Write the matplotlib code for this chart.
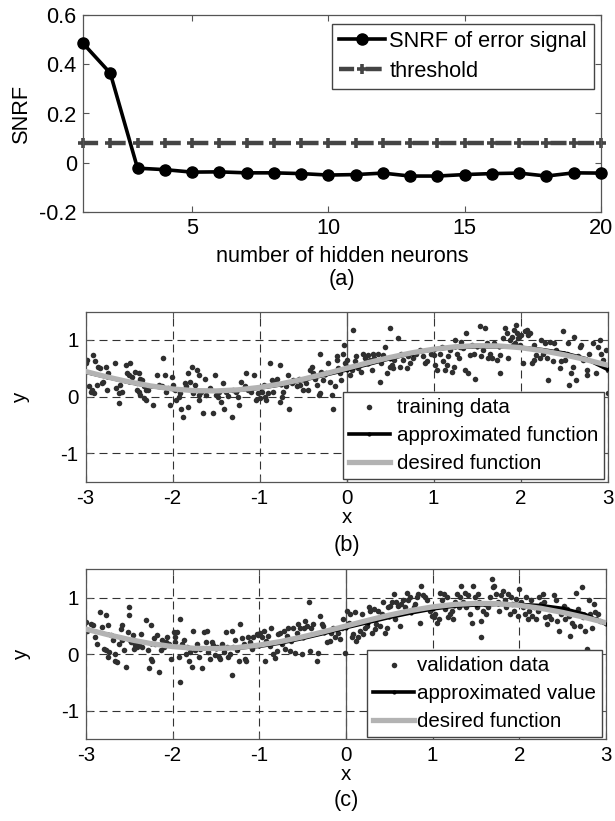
import numpy as np
import matplotlib
matplotlib.use("Agg")
import matplotlib.pyplot as plt

plt.rcParams["font.family"] = ["Liberation Sans", "DejaVu Sans"]
plt.rcParams["axes.unicode_minus"] = False
FS_A = 15.7   # text size of the SNRF panel
FS_F = 14.8   # text size of the two function panels

W, H = 615, 821

# (a) SNRF of the error signal vs number of hidden neurons
neurons = list(range(1, 21))
snrf = [0.485, 0.364, -0.022, -0.028, -0.038, -0.037, -0.041, -0.041, -0.044, -0.050,
        -0.048, -0.042, -0.054, -0.054, -0.048, -0.044, -0.042, -0.054, -0.041, -0.042]
threshold = [0.082] * len(neurons)

# (b), (c) function approximation
x_grid = [-3.0, -2.75, -2.5, -2.25, -2.0, -1.75, -1.5, -1.25, -1.0, -0.75, -0.5, -0.25, 0.0,
          0.25, 0.5, 0.75, 1.0, 1.25, 1.5, 1.75, 2.0, 2.25, 2.5, 2.75, 3.0]
desired = [0.444, 0.347, 0.261, 0.189, 0.136, 0.106, 0.101, 0.120, 0.163, 0.227, 0.308, 0.401, 0.500,
           0.599, 0.692, 0.773, 0.837, 0.880, 0.899, 0.894, 0.864, 0.811, 0.739, 0.653, 0.556]
approx_train = [0.43, 0.34, 0.25, 0.18, 0.13, 0.11, 0.10, 0.11, 0.15, 0.21, 0.29, 0.38, 0.47,
                0.57, 0.67, 0.76, 0.83, 0.87, 0.88, 0.88, 0.87, 0.83, 0.77, 0.67, 0.48]
approx_valid = [0.45, 0.35, 0.26, 0.19, 0.14, 0.11, 0.10, 0.11, 0.14, 0.20, 0.28, 0.37, 0.47,
                0.56, 0.65, 0.73, 0.80, 0.85, 0.87, 0.88, 0.88, 0.86, 0.81, 0.71, 0.53]

train_pts = [
    (-3.00, 0.59), (-2.98, 0.65), (-2.91, 0.74), (-2.89, 0.62), (-2.86, 0.53), (-2.83, 0.50),
    (-2.76, 0.53), (-2.74, 0.41), (-2.80, 0.26), (-2.87, 0.21), (-2.92, 0.12), (-2.90, 0.06),
    (-2.96, 0.18), (-2.94, 0.09), (-2.81, 0.24), (-2.75, 0.11), (-2.66, 0.59), (-2.65, 0.15),
    (-2.60, 0.21), (-2.61, 0.06), (-2.58, 0.09), (-2.62, -0.11), (-2.54, 0.56), (-2.52, 0.41),
    (-2.50, 0.38), (-2.49, 0.60), (-2.47, 0.35), (-2.43, 0.44), (-2.41, 0.24), (-2.39, 0.41),
    (-2.37, 0.32), (-2.41, 0.12), (-2.39, 0.09), (-2.37, 0.03), (-2.33, -0.03), (-2.31, -0.06),
    (-2.35, 0.29), (-2.33, 0.18), (-2.30, 0.12), (-2.28, 0.12), (-2.22, -0.14), (-2.18, 0.38),
    (-2.16, 0.21), (-2.12, 0.18), (-2.11, 0.69), (-2.09, 0.38), (-2.07, 0.09), (-2.05, 0.15),
    (-2.03, -0.15), (-2.01, 0.35), (-1.99, 0.21), (-1.97, 0.12), (-1.96, -0.06), (-1.93, 0.00),
    (-1.91, 0.06), (-1.90, -0.21), (-1.88, -0.36), (-1.86, 0.24), (-1.84, 0.18), (-1.82, 0.41),
    (-1.82, -0.18), (-1.80, 0.26), (-1.78, 0.53), (-1.76, 0.06), (-1.74, 0.21), (-1.72, 0.47),
    (-1.70, 0.38), (-1.69, 0.03), (-1.69, -0.06), (-1.67, 0.09), (-1.65, -0.28), (-1.63, 0.32),
    (-1.61, 0.03), (-1.57, 0.15), (-1.53, -0.29), (-1.51, 0.38), (-1.50, 0.03), (-1.48, 0.00),
    (-1.46, 0.09), (-1.44, -0.09), (-1.42, 0.24), (-1.41, -0.21), (-1.38, 0.09), (-1.36, 0.01),
    (-1.32, -0.36), (-1.30, 0.12), (-1.27, 0.09), (-1.25, 0.00), (-1.23, -0.15), (-1.21, 0.26),
    (-1.17, 0.18), (-1.15, 0.41), (-1.13, 0.12), (-1.10, 0.09), (-1.06, 0.38), (-1.04, -0.06),
    (-1.02, 0.06), (-0.99, -0.03), (-0.97, 0.09), (-0.94, 0.00), (-0.92, -0.06), (-0.90, 0.06),
    (-0.95, 0.21), (-0.88, 0.59), (-0.86, 0.29), (-0.84, 0.09), (-0.82, 0.24), (-0.80, 0.32),
    (-0.77, 0.56), (-0.76, -0.09), (-0.74, 0.00), (-0.73, 0.09), (-0.69, 0.18), (-0.67, 0.38),
    (-0.66, -0.21), (-0.63, 0.24), (-0.61, 0.29), (-0.57, 0.18), (-0.55, 0.32), (-0.53, 0.21),
    (-0.50, 0.12), (-0.48, 0.32), (-0.46, 0.24), (-0.44, 0.12), (-0.42, 0.47), (-0.40, 0.53),
    (-0.38, 0.41), (-0.36, 0.32), (-0.34, 0.21), (-0.32, 0.03), (-0.31, 0.06), (-0.31, 0.76),
    (-0.29, 0.44), (-0.27, 0.29), (-0.23, 0.41), (-0.21, 0.59), (-0.19, 0.26), (-0.17, 0.03),
    (-0.15, -0.21), (-0.13, 0.18), (-0.11, 0.71), (-0.11, 0.65), (-0.10, 0.50), (-0.08, 0.41),
    (-0.06, 0.29), (-0.04, 0.76), (-0.03, 0.91), (-0.02, 0.59), (0.00, 0.65), (0.02, 0.53),
    (0.04, 0.38), (0.06, 0.47), (0.08, 1.18), (0.10, 0.62), (0.11, 0.71), (0.13, 0.50),
    (0.17, 0.44), (0.19, 0.76), (0.21, 0.68), (0.23, 0.59), (0.25, 0.74), (0.27, 0.65),
    (0.29, 0.47), (0.31, 0.76), (0.32, 0.68), (0.36, 0.76), (0.38, 0.26), (0.40, 0.59),
    (0.42, 0.74), (0.44, 0.88), (0.46, 0.41), (0.50, 0.53), (0.50, 1.21), (0.52, 0.56),
    (0.53, 0.50), (0.55, 0.65), (0.59, 1.03), (0.61, 0.53), (0.63, 0.76), (0.65, 0.65),
    (0.69, 0.50), (0.71, 0.71), (0.73, 0.59), (0.76, 0.68), (0.80, 0.76), (0.84, 0.82),
    (0.88, 0.71), (0.90, 0.59), (0.92, 0.62), (0.97, 0.76), (1.00, 0.74), (1.02, 0.56),
    (1.04, 0.47), (1.08, 0.76), (1.10, 0.88), (1.11, 0.62), (1.13, 0.47), (1.15, 0.56),
    (1.17, 0.71), (1.19, 0.82), (1.21, 0.44), (1.23, 0.53), (1.25, 1.00), (1.27, 0.76),
    (1.29, 0.68), (1.31, 0.88), (1.32, 0.97), (1.34, 0.85), (1.36, 0.47), (1.37, 1.12),
    (1.40, 0.41), (1.42, 0.74), (1.44, 0.91), (1.46, 0.76), (1.48, 0.32), (1.53, 1.24),
    (1.55, 0.71), (1.57, 0.82), (1.59, 1.21), (1.61, 0.94), (1.63, 0.68), (1.65, 0.76),
    (1.67, 0.68), (1.69, 0.94), (1.73, 0.65), (1.76, 0.74), (1.77, 0.41), (1.80, 1.03),
    (1.82, 1.21), (1.84, 1.12), (1.86, 0.68), (1.88, 1.00), (1.90, 1.06), (1.91, 0.91),
    (1.92, 1.18), (1.94, 0.94), (1.95, 1.26), (1.96, 1.12), (1.97, 1.03), (1.99, 0.91),
    (2.01, 1.09), (2.03, 0.59), (2.05, 1.15), (2.07, 1.18), (2.09, 1.09), (2.11, 1.12),
    (2.13, 0.59), (2.15, 0.65), (2.16, 0.91), (2.18, 0.74), (2.22, 0.68), (2.24, 1.00),
    (2.26, 0.76), (2.28, 0.94), (2.30, 0.68), (2.32, 0.29), (2.34, 0.97), (2.37, 0.62),
    (2.39, 0.94), (2.41, 0.82), (2.45, 0.50), (2.47, 0.62), (2.49, 1.15), (2.51, 0.65),
    (2.53, 0.76), (2.55, 0.94), (2.56, 0.21), (2.58, 0.41), (2.60, 0.53), (2.62, 1.06),
    (2.64, 0.29), (2.66, 0.71), (2.68, 0.88), (2.70, 0.91), (2.72, 0.65), (2.76, 0.47),
    (2.77, 0.38), (2.79, 0.76), (2.83, 0.94), (2.87, 0.41), (2.89, 0.88), (2.91, 1.00),
    (2.93, 0.76), (2.95, 0.65), (2.98, 0.82), (3.00, 0.47), (3.00, 0.06),
]

valid_pts = [
    (-3.00, 0.57), (-2.99, 0.42), (-2.94, 0.54), (-2.92, 0.51), (-2.90, 0.31), (-2.87, 0.19),
    (-2.84, 0.75), (-2.81, 0.48), (-2.79, 0.10), (-2.77, 0.69), (-2.75, 0.51), (-2.77, 0.07),
    (-2.75, -0.05), (-2.73, 0.04), (-2.71, 0.34), (-2.69, 0.25), (-2.67, 0.01), (-2.66, -0.11),
    (-2.64, -0.14), (-2.62, 0.19), (-2.60, 0.45), (-2.58, 0.51), (-2.58, 0.25), (-2.56, 0.07),
    (-2.54, -0.22), (-2.52, 0.39), (-2.50, 0.69), (-2.50, 0.84), (-2.48, 0.22), (-2.46, 0.34),
    (-2.45, 0.10), (-2.43, 0.16), (-2.41, 0.13), (-2.39, 0.19), (-2.37, 0.36), (-2.35, 0.13),
    (-2.31, 0.60), (-2.29, 0.07), (-2.27, -0.25), (-2.25, 0.51), (-2.25, -0.08), (-2.24, -0.11),
    (-2.22, 0.28), (-2.20, 0.19), (-2.18, 0.34), (-2.16, -0.31), (-2.14, 0.07), (-2.12, 0.25),
    (-2.10, 0.13), (-2.08, 0.22), (-2.06, 0.31), (-2.04, 0.19), (-2.02, -0.08), (-1.99, 0.39),
    (-1.97, 0.31), (-1.97, 0.22), (-1.95, 0.39), (-1.93, -0.05), (-1.91, 0.63), (-1.91, -0.49),
    (-1.89, 0.19), (-1.87, 0.25), (-1.85, 0.01), (-1.83, 0.13), (-1.81, -0.11), (-1.80, 0.04),
    (-1.78, -0.22), (-1.76, 0.42), (-1.74, 0.07), (-1.72, 0.19), (-1.70, -0.05), (-1.68, 0.10),
    (-1.66, -0.25), (-1.64, 0.39), (-1.62, 0.22), (-1.60, 0.42), (-1.59, 0.04), (-1.57, -0.08),
    (-1.55, 0.22), (-1.53, 0.16), (-1.51, -0.02), (-1.49, 0.13), (-1.47, -0.05), (-1.45, -0.08),
    (-1.43, 0.19), (-1.41, 0.04), (-1.39, 0.39), (-1.37, 0.13), (-1.36, -0.05), (-1.34, 0.01),
    (-1.32, -0.37), (-1.31, 0.42), (-1.30, 0.13), (-1.28, 0.25), (-1.26, 0.07), (-1.24, -0.11),
    (-1.22, 0.54), (-1.20, 0.28), (-1.18, 0.19), (-1.16, -0.08), (-1.15, -0.11), (-1.13, 0.31),
    (-1.11, 0.22), (-1.09, 0.10), (-1.07, 0.31), (-1.03, 0.36), (-1.01, 0.34), (-0.99, 0.38),
    (-0.97, 0.30), (-0.95, 0.41), (-0.93, -0.12), (-0.92, 0.24), (-0.90, 0.33), (-0.88, 0.15),
    (-0.86, 0.47), (-0.84, 0.00), (-0.82, -0.06), (-0.80, 0.06), (-0.78, 0.36), (-0.76, 0.38),
    (-0.74, 0.18), (-0.72, 0.41), (-0.70, 0.09), (-0.68, 0.33), (-0.67, 0.47), (-0.65, 0.06),
    (-0.63, 0.24), (-0.61, 0.47), (-0.59, 0.03), (-0.57, 0.38), (-0.55, 0.53), (-0.53, 0.47),
    (-0.51, 0.00), (-0.49, 0.47), (-0.47, 0.59), (-0.45, 0.50), (-0.43, 0.92), (-0.42, 0.06),
    (-0.40, 0.47), (-0.38, 0.53), (-0.34, -0.12), (-0.32, 0.03), (-0.30, 0.68), (-0.28, 0.53),
    (-0.26, 0.50), (-0.24, 0.41), (-0.22, 0.21), (-0.18, 0.24), (-0.17, 0.38), (-0.15, 0.47),
    (-0.13, 0.30), (-0.11, 0.44), (-0.09, 0.38), (-0.07, 0.27), (-0.05, 0.47), (-0.03, 0.62),
    (-0.01, 0.03), (0.01, 0.77), (0.03, 0.56), (0.05, 0.71), (0.07, 0.30), (0.08, 0.36),
    (0.10, 0.74), (0.12, 0.24), (0.14, 0.30), (0.16, 0.41), (0.18, 0.71), (0.20, 0.36),
    (0.22, 0.47), (0.24, 0.50), (0.26, 0.83), (0.28, 0.77), (0.30, 0.38), (0.32, 0.80),
    (0.33, 0.44), (0.35, 0.53), (0.37, 0.77), (0.39, 0.50), (0.41, 0.71), (0.43, 0.92),
    (0.45, 0.38), (0.47, 0.47), (0.49, 0.83), (0.51, 0.86), (0.53, 0.92), (0.55, 1.07),
    (0.57, 0.62), (0.58, 0.92), (0.60, 0.86), (0.62, 0.50), (0.64, 0.89), (0.66, 0.95),
    (0.68, 0.83), (0.70, 1.09), (0.72, 0.95), (0.74, 1.01), (0.78, 0.83), (0.80, 0.89),
    (0.82, 1.01), (0.83, 1.07), (0.85, 0.56), (0.87, 1.21), (0.89, 1.04), (0.91, 1.01),
    (0.93, 0.95), (0.97, 0.77), (0.99, 0.68), (1.01, 0.65), (1.03, 0.71), (1.05, 0.56),
    (1.07, 0.62), (1.09, 1.09), (1.11, 0.95), (1.13, 1.07), (1.14, 0.80), (1.16, 1.01),
    (1.18, 0.65), (1.20, 0.71), (1.22, 0.77), (1.24, 0.62), (1.26, 0.92), (1.28, 1.07),
    (1.30, 0.83), (1.32, 1.01), (1.33, 1.21), (1.35, 0.92), (1.37, 1.09), (1.39, 0.83),
    (1.41, 1.04), (1.43, 0.71), (1.45, 0.56), (1.47, 1.21), (1.49, 1.01), (1.51, 0.83),
    (1.52, 1.07), (1.54, 0.92), (1.56, 0.30), (1.56, 0.59), (1.58, 0.77), (1.60, 0.89),
    (1.62, 0.71), (1.64, 0.83), (1.66, 1.01), (1.68, 1.33), (1.70, 1.18), (1.71, 1.21),
    (1.73, 1.07), (1.75, 0.92), (1.77, 0.77), (1.79, 1.04), (1.81, 1.12), (1.83, 0.95),
    (1.85, 0.83), (1.87, 1.07), (1.89, 0.71), (1.90, 1.01), (1.92, 0.89), (1.94, 0.77),
    (1.96, 0.98), (1.98, 0.68), (2.00, 1.15), (2.02, 0.92), (2.04, 0.83), (2.06, 0.71),
    (2.08, 1.01), (2.10, 0.62), (2.11, 0.77), (2.13, 0.95), (2.15, 0.68), (2.17, 0.83),
    (2.19, 0.62), (2.21, 0.77), (2.23, 1.01), (2.25, 0.89), (2.27, 1.07), (2.29, 0.92),
    (2.30, 0.65), (2.32, 0.53), (2.34, 0.68), (2.36, 0.62), (2.38, 0.80), (2.40, 1.04),
    (2.42, 0.95), (2.44, 0.59), (2.46, 0.41), (2.48, 0.71), (2.49, 0.77), (2.51, 0.86),
    (2.53, 0.62), (2.55, 0.80), (2.57, 0.68), (2.59, 0.33), (2.61, 0.56), (2.63, 0.50),
    (2.65, 1.09), (2.67, 0.71), (2.68, 0.80), (2.70, 0.50), (2.72, 1.18), (2.74, 0.65),
    (2.76, 0.41), (2.78, 0.09), (2.80, 0.95), (2.82, 0.71), (2.84, 0.47), (2.86, 0.89),
    (2.87, 0.74), (2.89, 0.62), (2.91, 0.71), (2.93, 0.59),
]

SPINE = "#555555"
DOT = "#2f2f2f"
GRAY_LINE = "#b3b3b3"

fig = plt.figure(figsize=(W / 100, H / 100), dpi=100)


def add_axes(l, t, r, b):
    # axes box given in pixel edges measured from the top-left corner
    return fig.add_axes([l / W, 1 - b / H, (r - l) / W, (b - t) / H])


def frame(ax, fs, pad):
    for s in ax.spines.values():
        s.set_color(SPINE)
        s.set_linewidth(0.9)
    ax.tick_params(direction="in", top=True, right=True, length=4, width=0.8,
                   color=SPINE, labelsize=fs, pad=pad)


def boxed_legend(ax, handles, labels, corner, fs, hlen, hpad, lspace, bpad):
    lg = ax.legend(handles, labels, loc="upper right",
                   bbox_to_anchor=(corner[0] / W, 1 - corner[1] / H),
                   bbox_transform=fig.transFigure, borderaxespad=0, fontsize=fs,
                   fancybox=False, edgecolor="#444444", framealpha=1, numpoints=1,
                   scatterpoints=1, handlelength=hlen, handletextpad=hpad,
                   labelspacing=lspace, borderpad=bpad)
    lg.get_frame().set_linewidth(1.0)
    return lg


# ---- (a) ----
ax_a = add_axes(83, 15, 601, 212)
thr_line, = ax_a.plot(neurons, threshold, color="#444444", lw=3.2,
                      ls=(6.4, (3.6, 2.6)), marker="+", ms=7, mew=2.6,
                      label="threshold", zorder=2, clip_on=False)
snrf_line, = ax_a.plot(neurons, snrf, color="black", lw=2.6, marker="o", ms=8,
                       label="SNRF of error signal", zorder=3, clip_on=False)
ax_a.set_xlim(1, 20)
ax_a.set_ylim(-0.2, 0.6)
ax_a.set_xticks([5, 10, 15, 20])
ax_a.set_yticks([-0.2, 0, 0.2, 0.4, 0.6])
ax_a.set_yticklabels(["-0.2", "0", "0.2", "0.4", "0.6"])
frame(ax_a, FS_A, 4.5)
ax_a.set_xlabel("number of hidden neurons", fontsize=FS_A, labelpad=5)
ax_a.set_ylabel("SNRF", fontsize=FS_A)
ax_a.yaxis.set_label_coords(-0.098, 0.5)
boxed_legend(ax_a, [snrf_line, thr_line], ["SNRF of error signal", "threshold"],
             (594, 24), FS_A, 2.15, 0.18, 0.4, 0.32)
fig.text(342 / W, 1 - 279 / H, "(a)", fontsize=FS_A, ha="center", va="center")


def func_panel(box, pts, approx, dot_label, approx_label, leg_corner, hpad, letter, letter_y):
    ax = add_axes(*box)
    ax.axvline(0, color=SPINE, lw=0.9, zorder=1)
    ax.grid(True, color="#333333", lw=0.8, ls=(0, (7.2, 4.5)))
    ax.set_axisbelow(True)
    pts = np.array(pts)
    ax.scatter(pts[:, 0], pts[:, 1], s=16, color=DOT, linewidths=0,
               label=dot_label, zorder=2)
    ax.plot(x_grid, approx, color="black", lw=2.6, marker=".", ms=4,
            label=approx_label, zorder=3)
    ax.plot(x_grid, desired, color=GRAY_LINE, lw=3.8, label="desired function", zorder=4)
    ax.set_xlim(-3, 3)
    ax.set_ylim(-1.5, 1.5)
    ax.set_xticks(range(-3, 4))
    ax.set_yticks([-1, 0, 1])
    frame(ax, FS_F, 5)
    ax.set_xlabel("x", fontsize=FS_F, labelpad=0)
    ax.set_ylabel("y", fontsize=FS_F)
    ax.yaxis.set_label_coords(-0.106, 0.5)
    h, l = ax.get_legend_handles_labels()
    boxed_legend(ax, h, l, leg_corner, FS_F, 2.0, hpad, 0.44, 0.28)
    fig.text((box[0] + box[2]) / 2 / W, 1 - letter_y / H, letter, fontsize=FS_A,
             ha="center", va="center")
    return ax


func_panel((85.5, 311.6, 607.5, 481.7), train_pts, approx_train, "training data",
           "approximated function", (604, 392), 0.34, "(b)", 545)
func_panel((86, 569.3, 606, 739.3), valid_pts, approx_valid, "validation data",
           "approximated value", (602, 650), 0.15, "(c)", 800)

fig.savefig("out.png", dpi=100)
